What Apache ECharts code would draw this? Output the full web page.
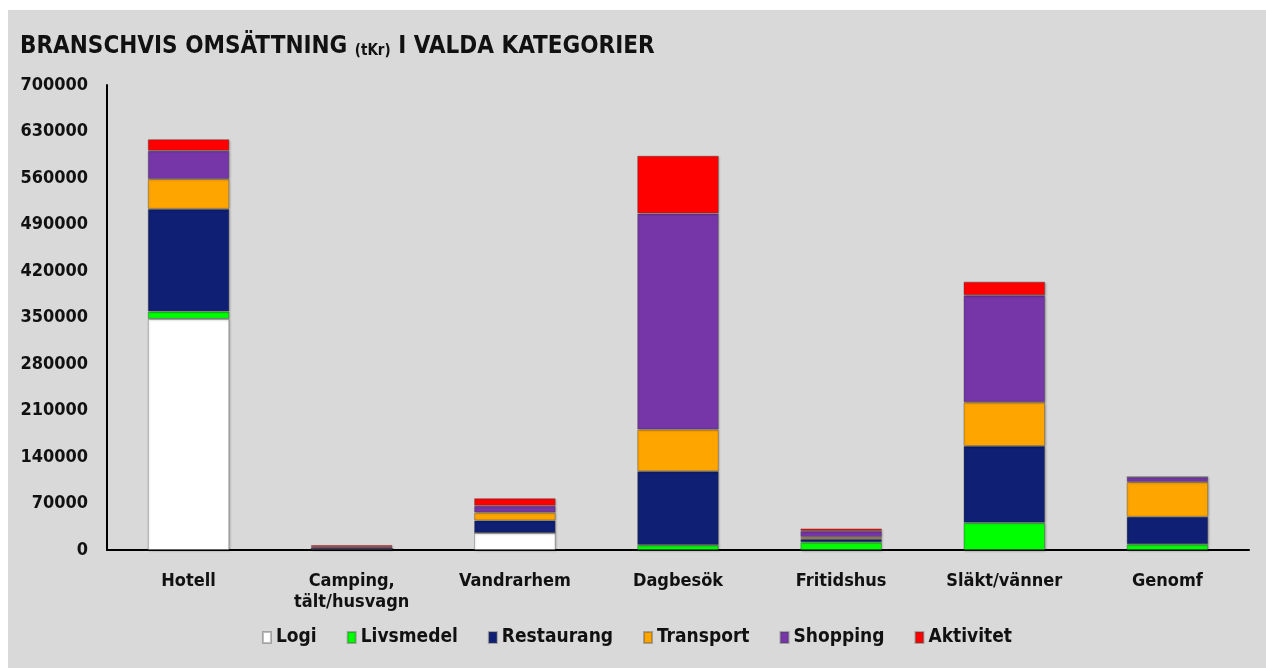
<!DOCTYPE html>
<html>
<head>
<meta charset="utf-8">
<script src="https://cdn.jsdelivr.net/npm/echarts@6/dist/echarts.min.js"></script>
<style>
  html, body { margin: 0; padding: 0; background: #fff; }
  #main { position: absolute; left: 8px; top: 10px; width: 1258px; height: 658px; background: #d9d9d9; }
</style>
</head>
<body>
<div id="main"></div>
<script>
// kategorier och värden (tKr)
var categories = ['Hotell', 'Camping,\ntält/husvagn', 'Vandrarhem', 'Dagbesök', 'Fritidshus', 'Släkt/vänner', 'Genomf'];
var logi       = [348000, 2000, 26000, 0, 0, 0, 0];
var livsmedel  = [11000, 0, 0, 7500, 11500, 41000, 8500];
var restaurang = [154500, 0, 18500, 111000, 5000, 115500, 41500];
var transport  = [45000, 0, 12000, 63000, 3000, 66000, 52500];
var shopping   = [42500, 2500, 10000, 325000, 9000, 161000, 7500];
var aktivitet  = [17500, 3000, 11500, 87000, 4000, 20500, 0];
var yTicks = [0, 70000, 140000, 210000, 280000, 350000, 420000, 490000, 560000, 630000, 700000];

var font = '"DejaVu Sans Condensed", "DejaVu Sans", sans-serif';

function serie(name, data, color) {
  return {
    name: name,
    type: 'bar',
    stack: 'total',
    barWidth: '50%',
    data: data,
    itemStyle: {
      color: color,
      borderColor: 'rgba(60,60,60,0.35)',
      borderWidth: 1,
      shadowColor: 'rgba(0,0,0,0.25)',
      shadowBlur: 2,
      shadowOffsetX: 1,
      shadowOffsetY: 1
    }
  };
}

var myChart = echarts.init(document.getElementById('main'));
var option = {
  backgroundColor: '#d9d9d9',
  textStyle: { fontFamily: font },
  title: {
    text: '{a|BRANSCHVIS OMSÄTTNING }{b|(tKr)}{a| I VALDA KATEGORIER}',
    left: 7,
    top: 20,
    textStyle: {
      rich: {
        a: { fontFamily: font, fontSize: 24, fontWeight: 'bold', color: '#111' },
        b: { fontFamily: font, fontSize: 15, fontWeight: 'bold', color: '#111', verticalAlign: 'bottom', padding: [5, 0, 0, 0] }
      }
    }
  },
  legend: {
    bottom: 16,
    left: 'center',
    itemWidth: 8,
    itemHeight: 11,
    itemGap: 30,
    icon: 'rect',
    textStyle: { fontFamily: font, fontSize: 19, fontWeight: 'bold', color: '#111' },
    data: ['Logi', 'Livsmedel', 'Restaurang', 'Transport', 'Shopping', 'Aktivitet']
  },
  grid: { left: 99, right: 17, top: 75, bottom: 118 },
  xAxis: {
    type: 'category',
    data: categories,
    axisLine: { lineStyle: { color: '#000', width: 2 } },
    axisTick: { show: false },
    axisLabel: { fontFamily: font, fontSize: 18, fontWeight: 'bold', color: '#111', margin: 21, lineHeight: 21 }
  },
  yAxis: {
    type: 'value',
    min: yTicks[0],
    max: yTicks[yTicks.length - 1],
    interval: yTicks[1] - yTicks[0],
    axisLine: { show: true, lineStyle: { color: '#000', width: 2 } },
    axisTick: { show: false },
    splitLine: { show: false },
    axisLabel: {
      fontFamily: font, fontSize: 18, fontWeight: 'bold', color: '#111', margin: 19,
      formatter: function (v) { return String(v); }
    }
  },
  series: [
    serie('Logi', logi, '#ffffff'),
    serie('Livsmedel', livsmedel, '#00ff00'),
    serie('Restaurang', restaurang, '#0f1f73'),
    serie('Transport', transport, '#ffa500'),
    serie('Shopping', shopping, '#7636a8'),
    serie('Aktivitet', aktivitet, '#ff0000')
  ]
};
myChart.setOption(option);
</script>
</body>
</html>
